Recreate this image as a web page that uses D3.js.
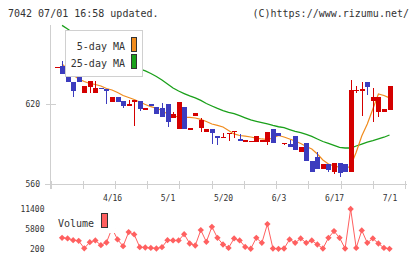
<!DOCTYPE html>
<html>
<head>
<meta charset="utf-8">
<script src="https://cdn.jsdelivr.net/npm/d3@7"></script>
<style>
body { margin: 0; background: #fff; }
svg text { font-family: "DejaVu Sans Mono", "Liberation Mono", monospace; fill: #333; }
</style>
</head>
<body>
<div id="chart"></div>
<script>
// tick labels under the price panel (trading-day index -> label)
var dateIdx = [10, 20, 30, 40, 50, 60];
var dateLabels = ["4/16", "5/1", "5/20", "6/3", "6/17", "7/1"];
var priceTicks = [560, 620];
var volTicks = [200, 5800, 11400];

// daily candles
var open = [648, 649, 641.5, 637, 640.5, 628.7, 633.3, 628.7, 632.5, 631.5,
	622, 625.7, 622.7, 619.8, 622, 622.7, 615.7, 620, 618, 617.2,
	620.2, 610, 601.6, 618.2, 601, 611.2, 602.4, 599.4, 601.6, 596.1,
	594.9, 597.6, 599.1, 594.1, 592.6, 592, 591.9, 592.2, 591.6, 601.4,
	598.4, 590.1, 590.1, 596.1, 584.3, 590.9, 577.5, 580.3, 571.3, 575.1,
	569.3, 575.8, 574.8, 569.3, 630, 630, 636.8, 622.5, 614.4, 614.4,
	615.7];
var high = [648.3, 652.5, 641.5, 637, 640.5, 633.8, 637.5, 637.5, 632.5, 631.5,
	625.3, 625.7, 622.7, 623, 623.2, 622.7, 617.5, 620, 618, 621,
	620.2, 614.5, 622, 618.2, 601.8, 613.5, 610, 601.6, 601.6, 596.1,
	598.6, 598.4, 599.9, 597.4, 593.1, 592.5, 596.1, 593.5, 599.2, 601.4,
	598.4, 590.9, 593.1, 596.1, 587.9, 590.9, 577.5, 584.1, 575.1, 575.1,
	575.8, 575.8, 574.8, 638.3, 633.8, 637, 636.8, 632, 625.5, 616.5,
	633.8];
var low = [648, 642.8, 636.5, 625.7, 637, 628.7, 628.5, 628.7, 631.3, 620.2,
	622, 621.7, 617.2, 619, 603.5, 615, 615.7, 618.7, 612.7, 610.7,
	602.6, 610, 601.6, 601.6, 601, 611.2, 599.3, 599.4, 590.1, 589.4,
	594.9, 592.6, 594.4, 592.6, 592.6, 592, 591.9, 592.2, 589.1, 590.6,
	596.4, 589.4, 587.6, 585.6, 584.3, 577.5, 569.3, 571.3, 571.3, 569.3,
	567.8, 565.5, 569.3, 569.3, 628.3, 611, 627, 607, 610.6, 614.4,
	615.7];
var close = [648.3, 642.8, 636.5, 630.2, 637, 633.8, 637.5, 632.3, 631.3, 630.3,
	625.3, 621.7, 619, 620, 623.2, 616.2, 617.5, 618.7, 612.7, 610.7,
	607, 612.5, 622, 601.6, 601.8, 613.5, 608.4, 601.6, 598.6, 594.9,
	595.6, 598.4, 599.9, 592.6, 593.1, 592.5, 596.1, 592.8, 599.2, 590.6,
	596.4, 590.9, 587.6, 585.6, 587.9, 577.5, 569.3, 571.3, 575.1, 570.5,
	575.8, 568.5, 569.3, 630.8, 630.8, 631.5, 633.3, 625.5, 625.5, 616.5,
	633.8];

// moving averages as drawn
var ma5 = [null, 650.4, 646.2, 642.1, 639.1, 637.2, 635.7, 634.9, 633.8, 631.9,
	630.8, 628.9, 626.6, 625.1, 623.6, 621.7, 619.9, 618.2, 617, 615.3,
	612.7, 611.2, 610.5, 610.2, 610.1, 609.7, 608.6, 607.1, 605.2, 604.1,
	602.9, 600.3, 597.7, 596.5, 596.1, 595.4, 594.6, 593.9, 593.5, 594.6,
	596.5, 595.4, 593.9, 592.4, 590.5, 588.2, 586.4, 582.6, 578.1, 575.1,
	573.6, 572.6, 571.3, 573.6, 583.9, 596.1, 605.2, 616.5, 627.8, 626.6,
	624.8];
var ma25 = [null, 679.4, 676.7, 673.7, 670.7, 667.7, 664.7, 662, 659.4, 657.1,
	654.9, 653, 651.1, 649.2, 647.7, 646.6, 645.1, 643.2, 640.9, 638.3,
	635.3, 632.3, 630, 628.1, 626.3, 624.8, 622.9, 620.6, 618.7, 616.9,
	615.3, 614, 612.9, 611.4, 609.8, 608.2, 607.2, 606.2, 605.2, 604.1,
	603.1, 602.4, 601, 599.7, 598.6, 597.3, 595.8, 593.9, 592, 590.5,
	589, 587.6, 587.1, 587.1, 588.6, 590.1, 591.6, 592.6, 593.9, 595.2,
	596.9];

var volume = [null, 3220, 3050, 2570, 2370, 250, 1995, 2480, 1140, 1910,
	5900, 2765, 855, 4850, 4190, 570, 485, 370, 200, 570,
	2570, 2480, 2480, 4275, 1625, 1055, 5415, 2080, 6355, 3220,
	1340, 370, 3050, 2480, 655, 120, 3220, 1795, 7125, 200,
	100, 200, 2765, 1795, 3050, 1795, 2480, 1340, 200, 3220,
	5130, 3220, 200, 11400, 370, 5330, 1795, 3050, 1625, 370,
	100];

var upColor = "#d40000", downColor = "#3c3cbe";
var axisColor = "#cfcfcf";

var svg = d3.select("#chart")
	.append("svg")
	.attr("width", 420)
	.attr("height", 259);

var data = open.map(function(o, i){
	return {i: i, o: o, h: high[i], l: low[i], c: close[i]};
});

var x = d3.scaleLinear().domain([0, 60]).range([56.5, 389.5]);
var y = d3.scaleLinear().domain([560, 620]).range([184, 104.3]);
var yv = d3.scaleLinear().domain([200, 11400]).range([248.5, 209]);
var grid = d3.scaleLinear().domain([0, 11]).range([50.5, 405]);

// header
svg.append("text").attr("x", 8).attr("y", 16.5).style("font-size", "10px")
	.text("7042 07/01 16:58 updated.");
svg.append("text").attr("x", 409).attr("y", 16.5).attr("text-anchor", "end").style("font-size", "10px")
	.text("(C)https://www.rizumu.net/");

// axes lines
svg.append("line").attr("x1", 50.5).attr("x2", 50.5).attr("y1", 25).attr("y2", 189)
	.attr("stroke", axisColor).attr("shape-rendering", "crispEdges");
svg.append("line").attr("x1", 45).attr("x2", 407).attr("y1", 184.5).attr("y2", 184.5)
	.attr("stroke", axisColor).attr("shape-rendering", "crispEdges");

var yAxis = svg.append("g")
	.attr("transform", "translate(50.5,0)")
	.call(d3.axisLeft(y).tickValues(priceTicks).tickSize(5).tickPadding(5.5));
yAxis.select(".domain").remove();
yAxis.selectAll("line").attr("x2", 5).attr("x1", -5).attr("stroke", axisColor)
	.attr("shape-rendering", "crispEdges");
yAxis.selectAll("text").style("font-size", "8px");

var gAxis = svg.append("g")
	.attr("transform", "translate(0,184.5)")
	.call(d3.axisBottom(grid).tickValues(d3.range(12)).tickFormat("").tickSize(4.5));
gAxis.select(".domain").remove();
gAxis.selectAll("line").attr("y1", -3.5).attr("stroke", axisColor).attr("shape-rendering", "crispEdges");

var xAxis = svg.append("g")
	.attr("transform", "translate(0,184)")
	.call(d3.axisBottom(x).tickValues(dateIdx).tickSize(0).tickPadding(11.8)
		.tickFormat(function(d, k){ return dateLabels[k]; }));
xAxis.select(".domain").remove();
xAxis.selectAll("text").style("font-size", "8px");

var vAxis = svg.append("g")
	.attr("transform", "translate(44.5,0)")
	.call(d3.axisLeft(yv).tickValues(volTicks).tickSize(0).tickPadding(0).tickFormat(d3.format("d")));
vAxis.select(".domain").remove();
vAxis.selectAll("text").style("font-size", "8px");

// moving averages (behind the candles)
function maLine(arr){
	return d3.line()
		.defined(function(d){ return d != null; })
		.x(function(d, i){ return x(i); })
		.y(function(d){ return y(d); })(arr);
}
svg.append("path").attr("d", maLine(ma25)).attr("fill", "none")
	.attr("stroke", "#1aa01a").attr("stroke-width", 1.3);
svg.append("path").attr("d", maLine(ma5)).attr("fill", "none")
	.attr("stroke", "#f08c1e").attr("stroke-width", 1.2);

// candles
var candles = svg.selectAll(".candle")
	.data(data)
	.enter().append("g")
	.attr("class", "candle");

candles.append("line")
	.attr("x1", function(d){ return Math.round(x(d.i)) + 0.5; })
	.attr("x2", function(d){ return Math.round(x(d.i)) + 0.5; })
	.attr("y1", function(d){ return y(d.h); })
	.attr("y2", function(d){ return y(d.l); })
	.attr("stroke", function(d){ return d.c >= d.o ? upColor : downColor; })
	.attr("shape-rendering", "crispEdges");

candles.append("rect")
	.attr("x", function(d){ return Math.round(x(d.i)) - 2; })
	.attr("width", 5)
	.attr("y", function(d){ return y(Math.max(d.o, d.c)); })
	.attr("height", function(d){ return Math.max(1.5, y(Math.min(d.o, d.c)) - y(Math.max(d.o, d.c))); })
	.attr("fill", function(d){ return d.c >= d.o ? upColor : downColor; })
	.attr("shape-rendering", "crispEdges");

// price legend
svg.append("rect").attr("x", 65.5).attr("y", 30.5).attr("width", 77).attr("height", 46)
	.attr("fill", "#fff").attr("stroke", "#d0d0d0");
svg.append("text").attr("x", 125).attr("y", 49.5).attr("text-anchor", "end").style("font-size", "10px").text("5-day MA");
svg.append("text").attr("x", 125).attr("y", 66.5).attr("text-anchor", "end").style("font-size", "10px").text("25-day MA");
svg.append("rect").attr("x", 131.5).attr("y", 37.5).attr("width", 5).attr("height", 14)
	.attr("fill", "#f08c1e").attr("stroke", "#333");
svg.append("rect").attr("x", 131.5).attr("y", 54.5).attr("width", 5).attr("height", 14)
	.attr("fill", "#1aa01a").attr("stroke", "#333");

// volume
var volLine = d3.line()
	.defined(function(d){ return d != null; })
	.x(function(d, i){ return x(i); })
	.y(function(d){ return yv(d); });
svg.append("path").attr("d", volLine(volume)).attr("fill", "none")
	.attr("stroke", "#ff6060").attr("stroke-width", 1);

svg.selectAll(".vdot")
	.data(volume.map(function(v, i){ return {i: i, v: v}; }).filter(function(d){ return d.v != null; }))
	.enter().append("path")
	.attr("class", "vdot")
	.attr("d", d3.symbol(d3.symbolSquare).size(20))
	.attr("transform", function(d){ return "translate(" + x(d.i) + "," + yv(d.v) + ") rotate(45)"; })
	.attr("fill", "#ff6060");

// volume legend (white background hides what is under it)
svg.append("rect").attr("x", 55).attr("y", 211).attr("width", 60.5).attr("height", 22).attr("fill", "#fff");
svg.append("text").attr("x", 58).attr("y", 226.5).style("font-size", "10px").text("Volume");
svg.append("rect").attr("x", 101.5).attr("y", 213.5).attr("width", 6).attr("height", 14)
	.attr("fill", "#ff6060").attr("stroke", "#333");
</script>
</body>
</html>
